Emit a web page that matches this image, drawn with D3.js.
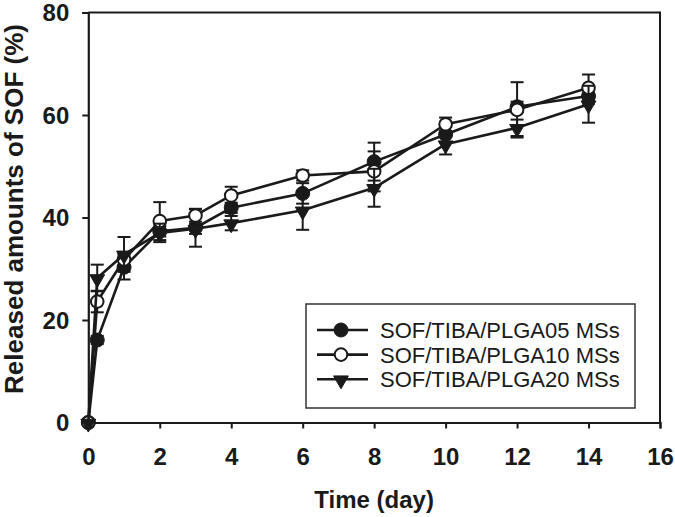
<!DOCTYPE html>
<html>
<head>
<meta charset="utf-8">
<script src="https://cdn.jsdelivr.net/npm/d3@7"></script>
<style>
  html, body { margin: 0; padding: 0; background: #fff; }
  svg { display: block; }
  text { font-family: "Liberation Sans", Arial, Helvetica, sans-serif; fill: #1a1a1a; }
</style>
</head>
<body>
<svg id="chart" width="675" height="517"></svg>
<script>
// ---- data ----
const time = [0, 0.25, 1, 2, 3, 4, 6, 8, 10, 12, 14];
const seriesNames = ["SOF/TIBA/PLGA05 MSs", "SOF/TIBA/PLGA10 MSs", "SOF/TIBA/PLGA20 MSs"];
const plga05 = [0, 16.1, 30.3, 37.3, 38.0, 41.9, 44.7, 50.9, 56.2, 61.6, 63.7];
const plga10 = [0, 23.6, 31.8, 39.3, 40.4, 44.3, 48.2, 49.0, 58.2, 61.0, 65.3];
const plga20 = [0, 28.2, 32.8, 37.0, 37.8, 38.9, 41.4, 45.8, 54.3, 57.5, 62.1];
const err05 = [0, 0.8, 2.4, 1.0, 3.7, 1.0, 2.0, 3.7, 1.5, 1.0, 1.5];
const err10 = [0, 2.1, 1.2, 3.7, 1.2, 1.7, 1.0, 3.9, 1.3, 5.4, 2.6];
const err20 = [0, 2.6, 3.4, 1.8, 1.0, 1.4, 3.8, 3.7, 2.0, 1.6, 3.6];
const xTicks = [0, 2, 4, 6, 8, 10, 12, 14, 16];
const yTicks = [0, 20, 40, 60, 80];
const markerTypes = ["filledCircle", "openCircle", "triangleDown"];

const seriesValues = [plga05, plga10, plga20];
const seriesErrors = [err05, err10, err20];

(function () {
// ---- layout ----
const svg = d3.select("#chart");
const mLeft = 88.3, mRight = 660, mTop = 12.5, mBottom = 422.5;
const x = d3.scaleLinear().domain([0, 16]).range([mLeft, mRight]);
const y = d3.scaleLinear().domain([0, 80]).range([mBottom, mTop]);
const ink = "#1a1a1a";

// frame (top and right)
svg.append("path")
  .attr("d", `M${mLeft},${mTop}H${mRight}V${mBottom}`)
  .attr("fill", "none").attr("stroke", ink).attr("stroke-width", 2);

// axes
const xAxis = svg.append("g").attr("transform", `translate(0,${mBottom})`)
  .call(d3.axisBottom(x).tickValues(xTicks).tickSize(6).tickPadding(19.5).tickFormat(d3.format("d")));
const yAxis = svg.append("g").attr("transform", `translate(${mLeft},0)`)
  .call(d3.axisLeft(y).tickValues(yTicks).tickSize(6).tickPadding(13).tickFormat(d3.format("d")));
[xAxis, yAxis].forEach(g => {
  g.select(".domain").attr("stroke", ink).attr("stroke-width", 2.2);
  g.selectAll(".tick line").attr("stroke", ink).attr("stroke-width", 2);
  g.selectAll(".tick text").attr("fill", ink).style("font-size", "24px").style("font-weight", "bold")
    .style("font-family", '"Liberation Sans", Arial, sans-serif');
});
yAxis.selectAll(".tick text").attr("dy", "0.34em");

// axis titles
svg.append("text")
  .attr("x", (mLeft + mRight) / 2).attr("y", 508)
  .attr("text-anchor", "middle")
  .style("font-size", "24px").style("font-weight", "bold")
  .text("Time (day)");
svg.append("text")
  .attr("transform", `translate(22.5,209) rotate(-90)`)
  .attr("text-anchor", "middle")
  .style("font-size", "26px").style("font-weight", "bold")
  .text("Released amounts of SOF (%)");

// marker drawing
const tri = d3.symbol().type(d3.symbolTriangle).size(95);
function drawMarker(g, type, cx, cy) {
  if (type === "filledCircle") {
    g.append("circle").attr("cx", cx).attr("cy", cy).attr("r", 7)
      .attr("fill", ink).attr("stroke", ink).attr("stroke-width", 1);
  } else if (type === "openCircle") {
    g.append("circle").attr("cx", cx).attr("cy", cy).attr("r", 6.3)
      .attr("fill", "#fff").attr("stroke", ink).attr("stroke-width", 2);
  } else {
    g.append("path").attr("d", tri())
      .attr("transform", `translate(${cx},${cy + 1}) rotate(180)`)
      .attr("fill", ink).attr("stroke", ink).attr("stroke-width", 1);
  }
}

const line = d3.line().x(d => x(d[0])).y(d => y(d[1]));
const plot = svg.append("g");

seriesValues.forEach((vals, si) => {
  const g = plot.append("g");
  const pts = time.map((t, i) => [t, vals[i]]);
  g.append("path").datum(pts).attr("d", line)
    .attr("fill", "none").attr("stroke", ink).attr("stroke-width", 2.6).attr("stroke-linejoin", "round");
  const errs = seriesErrors[si];
  time.forEach((t, i) => {
    const e = errs[i];
    if (!e) return;
    const cx = x(t), y1 = y(vals[i] + e), y2 = y(vals[i] - e);
    g.append("line").attr("x1", cx).attr("x2", cx).attr("y1", y1).attr("y2", y2)
      .attr("stroke", ink).attr("stroke-width", 2);
    [y1, y2].forEach(yy => g.append("line").attr("x1", cx - 6.5).attr("x2", cx + 6.5)
      .attr("y1", yy).attr("y2", yy).attr("stroke", ink).attr("stroke-width", 2));
  });
  pts.forEach(p => drawMarker(g, markerTypes[si], x(p[0]), y(p[1])));
});

// legend
const legend = svg.append("g");
legend.append("rect").attr("x", 306).attr("y", 304).attr("width", 329).attr("height", 104)
  .attr("fill", "#fff").attr("stroke", "#333").attr("stroke-width", 1.5);
seriesNames.forEach((name, i) => {
  const ly = 330 + i * 24.6;
  legend.append("line").attr("x1", 317).attr("x2", 368).attr("y1", ly).attr("y2", ly)
    .attr("stroke", ink).attr("stroke-width", 2.6);
  drawMarker(legend, markerTypes[i], 341, ly);
  legend.append("text").attr("x", 380).attr("y", ly).attr("dy", "0.36em")
    .style("font-size", "22px").text(name);
});
})();
</script>
</body>
</html>
